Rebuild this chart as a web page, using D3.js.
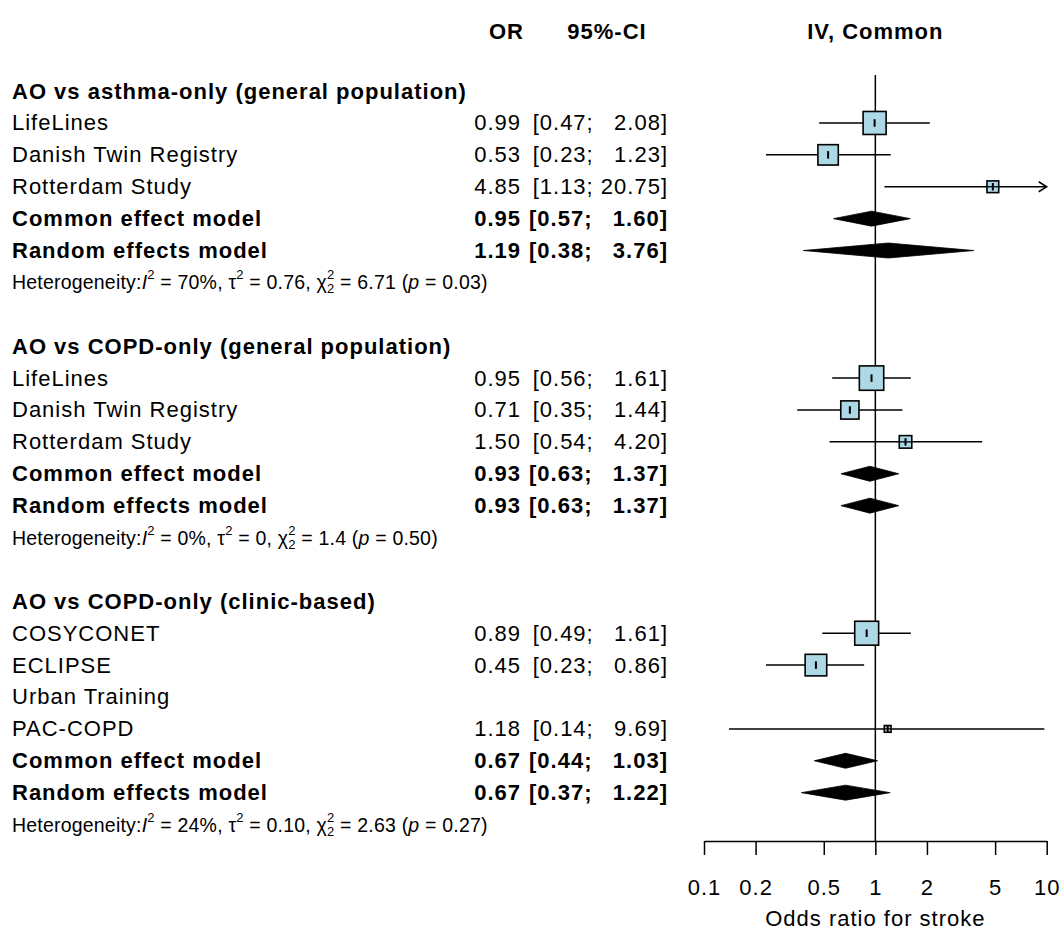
<!DOCTYPE html>
<html>
<head>
<meta charset="utf-8">
<script src="https://cdn.jsdelivr.net/npm/d3@7"></script>
<style>
  html, body { margin: 0; padding: 0; background: #fff; }
  svg { display: block; font-family: Arial, "Liberation Sans", sans-serif; }
</style>
</head>
<body>
<svg id="chart" width="1062" height="929"></svg>
<script>
// ---------------- DATA ----------------
const groupTitles = [
  "AO vs asthma-only (general population)",
  "AO vs COPD-only (general population)",
  "AO vs COPD-only (clinic-based)"
];
const studyGroup = [0, 0, 0, 1, 1, 1, 2, 2, 2, 2];
const studyNames = ["LifeLines", "Danish Twin Registry", "Rotterdam Study",
                    "LifeLines", "Danish Twin Registry", "Rotterdam Study",
                    "COSYCONET", "ECLIPSE", "Urban Training", "PAC-COPD"];
const studyOR    = [0.99, 0.53, 4.85, 0.95, 0.71, 1.50, 0.89, 0.45, null, 1.18];
const studyLower = [0.47, 0.23, 1.13, 0.56, 0.35, 0.54, 0.49, 0.23, null, 0.14];
const studyUpper = [2.08, 1.23, 20.75, 1.61, 1.44, 4.20, 1.61, 0.86, null, 9.69];
const studyWeight = [48.9, 38.4, 12.7, 54.9, 30.6, 14.5, 52.8, 43.0, null, 4.2]; // % (IV, common)

const commonOR    = [0.95, 0.93, 0.67];
const commonLower = [0.57, 0.63, 0.44];
const commonUpper = [1.60, 1.37, 1.03];
const randomOR    = [1.19, 0.93, 0.67];
const randomLower = [0.38, 0.63, 0.37];
const randomUpper = [3.76, 1.37, 1.22];

const hetI2  = ["70%", "0%", "24%"];
const hetTau2 = ["0.76", "0", "0.10"];
const hetQ   = ["6.71", "1.4", "2.63"];
const hetDf  = ["2", "2", "2"];
const hetP   = ["0.03", "0.50", "0.27"];

const axisTicks = [0.1, 0.2, 0.5, 1, 2, 5, 10];
const axisTickLabels = ["0.1", "0.2", "0.5", "1", "2", "5", "10"];
const xLabel = "Odds ratio for stroke";
const headers = { or: "OR", ci: "95%-CI", plot: "IV, Common" };

// ---------------- LAYOUT ----------------
const svg = d3.select("#chart");
const FS = 22, LS = 1, FS_SMALL = 19.5, FS_SUP = 13;
const labelX = 12, orRightX = 521, ciRightX = 668;

const rows = [];
let r = 2;
groupTitles.forEach((g, gi) => {
  rows.push({ type: "title", g: gi, row: r++ });
  studyNames.forEach((s, i) => {
    if (studyGroup[i] === gi) rows.push({ type: "study", i, g: gi, row: r++ });
  });
  rows.push({ type: "common", g: gi, row: r++ });
  rows.push({ type: "random", g: gi, row: r++ });
  rows.push({ type: "het", g: gi, row: r++ });
  r++;
});

const y = d3.scaleLinear().domain([0, 1]).range([27.3, 27.3 + 31.89]);
const x = d3.scaleLog().domain([0.1, 10]).range([704, 1046.7]);
const boxSize = d3.scaleSqrt().domain([0, 100]).range([0, 32.9]);

const fmt2 = d3.format(".2f");
const fmtCI = (lo, hi) => {
  const a = fmt2(lo), b = fmt2(hi);
  return "[" + a + ";" + (b.length < 5 ? "\u2007" : "") + " " + b + "]";
};

function txt(sel, xx, yy, s, opts = {}) {
  return sel.append("text").attr("x", xx).attr("y", yy)
    .attr("dominant-baseline", "central")
    .attr("font-size", opts.fs || FS)
    .attr("letter-spacing", opts.ls != null ? opts.ls : LS)
    .attr("font-weight", opts.bold ? "bold" : null)
    .attr("text-anchor", opts.anchor || "start")
    .attr("xml:space", "preserve")
    .text(s);
}

// headers
const yHead = 31;
txt(svg, orRightX + 3, yHead, headers.or, { bold: true, anchor: "end" });
txt(svg, 607, yHead, headers.ci, { bold: true, anchor: "middle" });
txt(svg, x(1), yHead, headers.plot, { bold: true, anchor: "middle" });

// reference line
const axisY = 841;
svg.append("line").attr("x1", x(1)).attr("x2", x(1)).attr("y1", 75).attr("y2", axisY)
  .attr("stroke", "#000").attr("stroke-width", 1.5);

const g = svg.append("g");
rows.forEach(d => {
  const yy = y(d.row);
  if (d.type === "title") {
    txt(g, labelX, yy, groupTitles[d.g], { bold: true });
  } else if (d.type === "study") {
    const i = d.i;
    txt(g, labelX, yy, studyNames[i]);
    if (studyOR[i] == null) return;
    txt(g, orRightX, yy, fmt2(studyOR[i]), { anchor: "end" });
    txt(g, ciRightX, yy, fmtCI(studyLower[i], studyUpper[i]), { anchor: "end" });
    const lo = Math.max(studyLower[i], 0.1), hi = Math.min(studyUpper[i], 10);
    g.append("line").attr("x1", x(lo)).attr("x2", x(hi)).attr("y1", yy).attr("y2", yy)
      .attr("stroke", "#000").attr("stroke-width", 1.5);
    if (studyUpper[i] > 10) {
      g.append("path").attr("d", `M${x(10) - 8},${yy - 5} L${x(10)},${yy} L${x(10) - 8},${yy + 5}`)
        .attr("fill", "none").attr("stroke", "#000").attr("stroke-width", 1.5);
    }
    const s = boxSize(studyWeight[i]);
    const cx = x(studyOR[i]);
    g.append("rect").attr("x", cx - s / 2).attr("y", yy - s / 2).attr("width", s).attr("height", s)
      .attr("fill", "#ADD8E6").attr("stroke", "#000").attr("stroke-width", 1.6);
    if (s < 16) {
      g.append("line").attr("x1", cx - s / 2).attr("x2", cx + s / 2).attr("y1", yy).attr("y2", yy)
        .attr("stroke", "#000").attr("stroke-width", 1.3);
    }
    const th = Math.min(s, 7.5) / 2;
    g.append("line").attr("x1", cx).attr("x2", cx).attr("y1", yy - th).attr("y2", yy + th)
      .attr("stroke", "#000").attr("stroke-width", 2);
  } else if (d.type === "common" || d.type === "random") {
    const isC = d.type === "common";
    const est = isC ? commonOR[d.g] : randomOR[d.g];
    const lo = isC ? commonLower[d.g] : randomLower[d.g];
    const hi = isC ? commonUpper[d.g] : randomUpper[d.g];
    txt(g, labelX, yy, isC ? "Common effect model" : "Random effects model", { bold: true });
    txt(g, orRightX, yy, fmt2(est), { bold: true, anchor: "end" });
    txt(g, ciRightX, yy, fmtCI(lo, hi), { bold: true, anchor: "end" });
    const h = 7.5;
    g.append("path")
      .attr("d", `M${x(lo)},${yy} L${x(est)},${yy - h} L${x(hi)},${yy} L${x(est)},${yy + h} Z`)
      .attr("fill", "#000").attr("stroke", "#000").attr("stroke-width", 0.8);
  } else if (d.type === "het") {
    const t = txt(g, labelX, yy, "", { fs: FS_SMALL, ls: 0.2 });
    t.append("tspan").text("Heterogeneity:");
    t.append("tspan").attr("font-style", "italic").text("I");
    t.append("tspan").attr("font-size", FS_SUP).attr("dy", -8).text("2");
    t.append("tspan").attr("dy", 8).text(" = " + hetI2[d.g] + ", \u03C4");
    t.append("tspan").attr("font-size", FS_SUP).attr("dy", -8).text("2");
    t.append("tspan").attr("dy", 8).text(" = " + hetTau2[d.g] + ", \u03C7");
    t.append("tspan").attr("font-size", FS_SUP).attr("dy", -8).text("2");
    t.append("tspan").attr("font-size", FS_SUP).attr("dx", -7.4).attr("dy", 14).text(hetDf[d.g]);
    t.append("tspan").attr("dy", -6).text(" = " + hetQ[d.g] + " (");
    t.append("tspan").attr("font-style", "italic").text("p");
    t.append("tspan").text(" = " + hetP[d.g] + ")");
  }
});

// axis
const axis = d3.axisBottom(x).tickValues(axisTicks)
  .tickFormat((v, i) => axisTickLabels[i]).tickSize(14).tickSizeOuter(0).tickPadding(24);
const ag = svg.append("g").attr("transform", `translate(0,${axisY})`).call(axis);
ag.select(".domain").attr("stroke", "#000").attr("stroke-width", 1.5);
ag.selectAll(".tick line").attr("stroke", "#000").attr("stroke-width", 1.5);
ag.selectAll(".tick text").attr("font-size", FS).attr("letter-spacing", LS)
  .attr("font-family", "Arial, 'Liberation Sans', sans-serif").attr("fill", "#000");
txt(svg, x(1), 918, xLabel, { anchor: "middle" });
</script>
</body>
</html>
